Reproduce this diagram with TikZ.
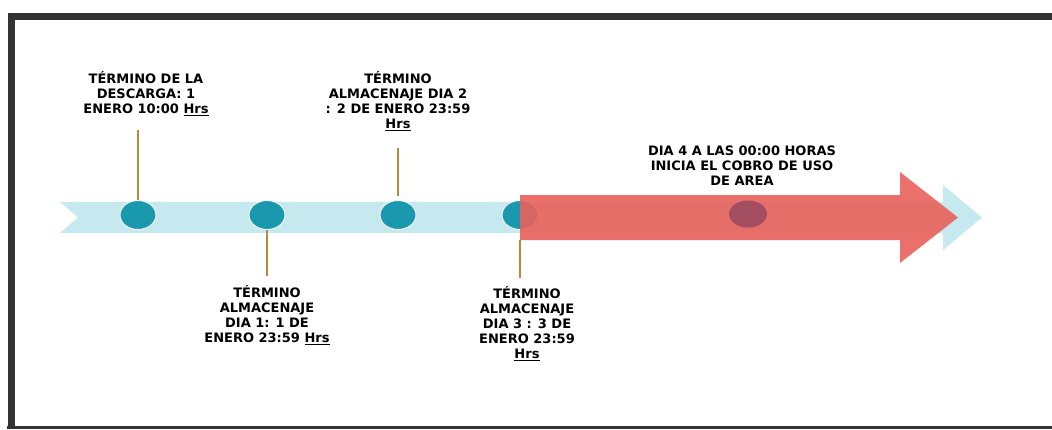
\documentclass[tikz,border=0pt]{standalone}
\usepackage{fontspec}
\setmainfont{DejaVu Sans}
\usetikzlibrary{shapes.geometric}

\definecolor{bandblue}{HTML}{C6E8EF}
\definecolor{dotteal}{HTML}{1A98AD}
\definecolor{arrowred}{HTML}{E9615B}
\definecolor{dotred}{HTML}{A24D60}
\definecolor{stemline}{HTML}{B7893A}
\definecolor{framegray}{HTML}{333333}

\begin{document}
\begin{tikzpicture}[x=1pt,y=-1pt,
    dot/.style={ellipse, minimum width=36pt, minimum height=29pt, inner sep=0pt,
        fill=dotteal, draw=white!70!bandblue, line width=1pt},
    lbl/.style={align=center, inner sep=0pt,
        font=\bfseries\fontsize{13}{15}\selectfont},
    stem/.style={draw=stemline, line width=1.2pt}]
    \useasboundingbox (0,0) rectangle (1052,429);
    % frame
    \draw[framegray, line width=7pt] (11,429) -- (11,16) -- (1052,16);
    \draw[framegray, line width=3pt] (7,427.5) -- (1052,427.5);
    % band
    \fill[bandblue] (60,202) -- (943,202) -- (943,185) -- (982,217.5)
        -- (943,250) -- (943,233) -- (60,233) -- (78,217.5) -- cycle;
    \node[dot] (d1) at (138,215) {};
    \node[dot] (d2) at (267,215) {};
    \node[dot] (d3) at (398,215) {};
    \node[dot] (d4) at (520,215) {};
    % red arrow
    \fill[arrowred, opacity=0.9] (520,195) -- (900,195) -- (900,172) -- (958,217.5)
        -- (900,263) -- (900,240) -- (520,240) -- cycle;
    \node[dot, fill=dotred, draw=none, minimum width=38pt, minimum height=27pt] (d5) at (748,214) {};
    % labels
    \node[lbl] (t1) at (146,94) {TÉRMINO DE LA\\DESCARGA: 1\\ENERO 10:00 \underline{Hrs}};
    \node[lbl] (t2) at (267,315) {TÉRMINO\\ALMACENAJE\\DIA 1: 1 DE\\ENERO 23:59 \underline{Hrs}};
    \node[lbl] (t3) at (398,101) {TÉRMINO\\ALMACENAJE DIA 2\\: 2 DE ENERO 23:59\\\underline{Hrs}};
    \node[lbl] (t4) at (527,324) {TÉRMINO\\ALMACENAJE\\DIA 3 : 3 DE\\ENERO 23:59\\\underline{Hrs}};
    \node[lbl] (t5) at (742,166) {DIA 4 A LAS 00:00 HORAS\\INICIA EL COBRO DE USO\\DE AREA};
    % stems
    \coordinate (s1) at (138,130);
    \coordinate (s2) at (267,276);
    \coordinate (s3) at (398,148);
    \coordinate (s4) at (520,278);
    \draw[stem] (d1.north) -- (s1);
    \draw[stem] (d2.south) -- (s2);
    \draw[stem, shorten <=4pt] (d3.north) -- (s3);
    \draw[stem, shorten <=10pt] (d4.south) -- (s4);
\end{tikzpicture}
\end{document}
